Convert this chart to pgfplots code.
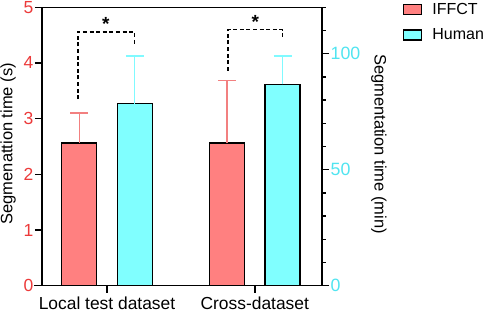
\documentclass[border=0pt]{standalone}
\usepackage{pgfplots}
\pgfplotsset{compat=1.18}
\usepackage{fontspec}
\setmainfont{Liberation Sans}
\definecolor{iffct}{RGB}{255,128,128}
\definecolor{iffcterr}{RGB}{242,128,128}
\definecolor{human}{RGB}{128,255,255}
\definecolor{humanerr}{RGB}{128,250,255}
\definecolor{redlab}{RGB}{236,58,58}
\definecolor{cyanlab}{RGB}{80,228,240}
\begin{document}
\begin{tikzpicture}
\useasboundingbox (-42pt,-26.3pt) rectangle (442pt,285.7pt);
\begin{axis}[
  at={(0pt,0pt)}, anchor=south west,
  scale only axis, width=280pt, height=278.4pt,
  xmin=-0.44, xmax=1.455, ymin=0, ymax=5,
  axis line style={line width=1.5pt},
  xtick={0,1}, xticklabels={Local test dataset,Cross-dataset},
  xtick pos=lower, ytick pos=left,
  ytick={0,1,2,3,4,5},
  tick align=outside,
  major tick length=7pt,
  tick style={line width=1.5pt, color=black},
  /pgf/number format/assume math mode=true,
  yticklabel style={font=\fontsize{17.5}{20}\selectfont, color=redlab, inner sep=1.5pt},
  xticklabel style={font=\fontsize{17.4}{20}\selectfont, inner sep=1pt, yshift=-3pt},
  ylabel={Segmenattion time (s)},
  ylabel style={font=\fontsize{16.5}{20}\selectfont, at={(axis description cs:-0.1214,0.51)}, anchor=center},
  legend style={at={(axis description cs:1.289,1.016)}, anchor=north west, draw=none, fill=none,
    font=\fontsize{16}{19}\selectfont, inner sep=0pt, row sep=13pt,
    nodes={inner sep=0pt, anchor=west},
    /tikz/every odd column/.append style={column sep=10pt}},
  legend cell align=left,
]
\addplot[ybar, bar width=35pt, bar shift=0pt, fill=iffct, draw=black, line width=1.4pt, forget plot,
  error bars/.cd, y dir=plus, y explicit,
  error bar style={line width=1.3pt, color=iffcterr},
  error mark options={rotate=90, mark size=9pt, line width=1.3pt, color=iffcterr}]
  coordinates {(-0.1881,2.56) +- (0,0.54) (0.8119,2.56) +- (0,1.13)};
\addlegendimage{legend image code/.code={\draw[fill=iffct, draw=black, line width=1.3pt] (0pt,-5pt) rectangle (18pt,5pt);}}
\addlegendentry{IFFCT}
\addlegendimage{legend image code/.code={\draw[fill=human, draw=black, line width=1.3pt] (0pt,-5pt) rectangle (18pt,5pt);}}
\addlegendentry{Human}
\draw[dash pattern=on 4pt off 2.6pt, line width=1.6pt]
  ([xshift=-29.3pt]axis cs:0,3.35) -- ([xshift=-29.3pt]axis cs:0,4.56) -- ([xshift=27.3pt]axis cs:0,4.56) -- ([xshift=27.3pt]axis cs:0,4.32);
\draw[dash pattern=on 4pt off 2.6pt, line width=1.6pt]
  ([xshift=-26.5pt]axis cs:1,3.86) -- ([xshift=-26.5pt]axis cs:1,4.60) -- ([xshift=27.9pt]axis cs:1,4.60) -- ([xshift=27.9pt]axis cs:1,4.47);
\node[font=\fontsize{19}{20}\selectfont\bfseries, anchor=center] at ([xshift=-1.3pt]axis cs:0,4.70) {*};
\node[font=\fontsize{19}{20}\selectfont\bfseries, anchor=center] at ([xshift=0.5pt]axis cs:1,4.73) {*};
\end{axis}
\begin{axis}[
  at={(0pt,0pt)}, anchor=south west,
  scale only axis, width=280pt, height=278.4pt,
  xmin=-0.44, xmax=1.455, ymin=0, ymax=120,
  axis x line=none, axis y line*=right,
  axis line style={line width=1.5pt, -},
  ytick={0,50,100}, minor ytick={10,20,30,40,60,70,80,90,110,120},
  tick align=outside,
  major tick length=7pt, minor tick length=3.6pt,
  tick style={line width=1.5pt, color=black},
  /pgf/number format/assume math mode=true,
  yticklabel style={font=\fontsize{17.8}{20}\selectfont, color=cyanlab, inner sep=1.5pt},
  ylabel={Segmentation time (min)},
  ylabel style={font=\fontsize{16.5}{20}\selectfont, at={(axis description cs:1.2036,0.509)}, anchor=center, rotate=180},
]
\addplot[ybar, bar width=35pt, bar shift=0pt, fill=human, draw=black, line width=1.4pt,
  error bars/.cd, y dir=plus, y explicit,
  error bar style={line width=1.3pt, color=humanerr},
  error mark options={rotate=90, mark size=9pt, line width=1.3pt, color=humanerr}]
  coordinates {(0.1881,78.5) +- (0,20.5) (1.1881,86.8) +- (0,12.2)};
\end{axis}
\draw[line width=1.5pt] (-8pt,0pt) -- (286pt,0pt);
\end{tikzpicture}
\end{document}
